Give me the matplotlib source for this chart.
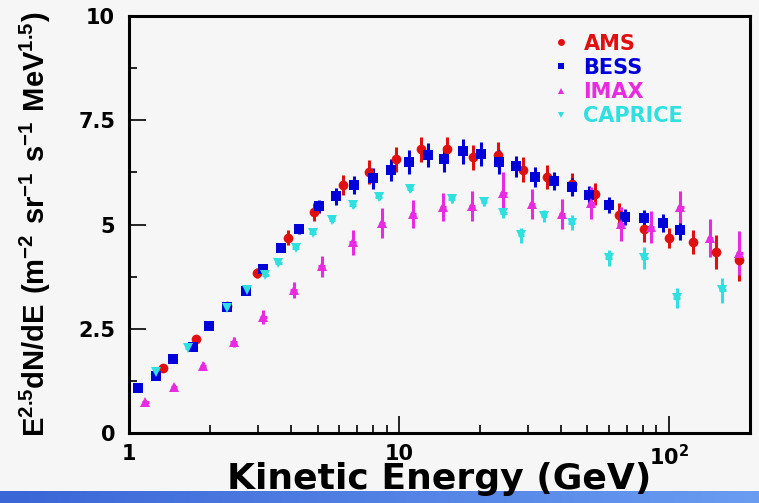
import numpy as np
import matplotlib
matplotlib.use('Agg')
from matplotlib import pyplot as plt
from matplotlib.lines import Line2D
from matplotlib.colors import LinearSegmentedColormap

plt.rcParams['font.family'] = ['DejaVu Sans']
plt.rcParams['font.weight'] = 'bold'
plt.rcParams['mathtext.fontset'] = 'custom'
plt.rcParams['mathtext.rm'] = 'Liberation Sans:bold'
plt.rcParams['mathtext.bf'] = 'Liberation Sans:bold'
plt.rcParams['mathtext.default'] = 'bf'

# AMS
ams_e = [1.34, 1.77, 2.31, 2.99, 3.87, 4.83, 6.19, 7.74, 9.74, 12.1, 15.1, 18.9,
         23.4, 28.9, 35.5, 43.7, 53.5, 65.7, 81.2, 100, 123, 150, 183]
ams_v = [1.56, 2.25, 3.05, 3.85, 4.68, 5.3, 5.95, 6.26, 6.57, 6.81, 6.81, 6.62,
         6.67, 6.31, 6.14, 5.97, 5.73, 5.23, 4.89, 4.68, 4.58, 4.34, 4.15]
ams_err = [0.05, 0.06, 0.08, 0.12, 0.18, 0.22, 0.25, 0.28, 0.3, 0.3, 0.3, 0.3,
           0.3, 0.3, 0.28, 0.26, 0.26, 0.28, 0.3, 0.24, 0.28, 0.4, 0.5]

# BESS
bess_e = [1.08, 1.26, 1.46, 1.72, 1.98, 2.31, 2.72, 3.15, 3.67, 4.28, 5.04, 5.83,
          6.81, 8.0, 9.33, 10.9, 12.8, 14.7, 17.3, 20.2, 23.5, 27.2, 32.0, 37.7,
          43.7, 50.8, 59.9, 69.1, 81.2, 95, 110]
bess_v = [1.08, 1.37, 1.77, 2.06, 2.57, 3.02, 3.41, 3.93, 4.44, 4.89, 5.44, 5.68,
          5.95, 6.11, 6.31, 6.5, 6.67, 6.57, 6.76, 6.69, 6.5, 6.4, 6.14, 6.04,
          5.9, 5.71, 5.47, 5.18, 5.16, 5.04, 4.87]
bess_err = [0.03, 0.03, 0.04, 0.05, 0.05, 0.06, 0.06, 0.08, 0.1, 0.12, 0.16, 0.2,
            0.22, 0.25, 0.26, 0.28, 0.28, 0.3, 0.3, 0.28, 0.28, 0.25, 0.25, 0.22,
            0.22, 0.22, 0.2, 0.2, 0.2, 0.22, 0.25]

# IMAX
imax_e = [1.15, 1.47, 1.88, 2.44, 3.15, 4.07, 5.17, 6.74, 8.65, 11.3, 14.6, 18.7,
          24.4, 31.2, 40.3, 51.7, 66.4, 85.7, 110.5, 142, 183]
imax_v = [0.74, 1.1, 1.61, 2.18, 2.78, 3.43, 4.0, 4.58, 5.04, 5.25, 5.42, 5.44,
          5.76, 5.49, 5.25, 5.52, 5.01, 4.94, 5.42, 4.68, 4.32]
imax_err = [0.06, 0.08, 0.1, 0.12, 0.16, 0.2, 0.25, 0.3, 0.36, 0.34, 0.34, 0.36,
            0.5, 0.36, 0.36, 0.38, 0.4, 0.38, 0.38, 0.46, 0.52]

# CAPRICE
cap_e = [1.26, 1.66, 2.31, 2.74, 3.2, 3.58, 4.14, 4.79, 5.64, 6.74, 8.42, 11.0,
         15.7, 20.7, 24.4, 28.4, 34.5, 43.7, 59.9, 81.2, 107, 158]
cap_v = [1.46, 2.03, 3.0, 3.43, 3.8, 4.08, 4.44, 4.8, 5.11, 5.47, 5.66, 5.85,
         5.61, 5.54, 5.28, 4.75, 5.2, 5.04, 4.2, 4.2, 3.24, 3.43]
cap_err = [0.02, 0.03, 0.04, 0.04, 0.05, 0.05, 0.06, 0.06, 0.07, 0.07, 0.08, 0.08,
           0.1, 0.1, 0.12, 0.18, 0.14, 0.18, 0.2, 0.27, 0.24, 0.3]

series = [
    ('AMS', ams_e, ams_v, ams_err, '#e01010', 'o', 7, 0.0),
    ('BESS', bess_e, bess_v, bess_err, '#0000d8', 's', 7, 0.0),
    ('IMAX', imax_e, imax_v, imax_err, '#e82ae0', '^', 6.5, 0.012),
    ('CAPRICE', cap_e, cap_v, cap_err, '#30e0e0', 'v', 6.5, 0.012),
]

bg = '#f6f6f6'
fig = plt.figure(figsize=(7.59, 5.03), dpi=100, facecolor=bg)
ax = fig.add_axes([0.170, 0.139, 0.818, 0.829], facecolor=bg)

handles = []
for name, e, v, err, col, mk, ms, dx in series:
    e = np.array(e)
    f = 10 ** dx
    xerr = [e - e / f, e * f - e] if dx > 0 else None
    ax.errorbar(e, v, yerr=err, xerr=xerr, fmt=mk, color=col, ms=ms,
                elinewidth=2.2, capsize=0, mew=0)
    handles.append(Line2D([], [], ls='none', marker=mk, color=col, ms=5, mew=0, label=name))

ax.set_xscale('log')
ax.set_xlim(1, 200)
ax.set_ylim(0, 10)
ax.set_xticks([1, 10, 100])
ax.set_xticklabels(['1', '10', r'$\mathsf{10^{2}}$'])
ax.set_yticks([0, 2.5, 5, 7.5, 10])
ax.set_yticklabels(['0', '2.5', '5', '7.5', '10'])
ax.set_yticks(np.arange(0, 10.01, 1.25), minor=True)
ax.tick_params(which='both', direction='in', top=False, right=False, labelsize=15, width=1.2)
ax.tick_params(which='major', length=12)
ax.tick_params(which='minor', length=6)
ax.tick_params(axis='x', pad=8)
ax.tick_params(axis='y', pad=10)
for s in ax.spines.values():
    s.set_linewidth(2.2)

ax.set_xlabel('Kinetic Energy (GeV)', fontsize=26, fontweight='bold')
ax.xaxis.label.set_va('baseline')
ax.xaxis.set_label_coords(0.5, -0.133)
ax.set_ylabel(r'$E^{2.5}dN/dE\ (m^{-2}\ sr^{-1}\ s^{-1}\ MeV^{1.5})$', fontsize=21)
ax.yaxis.set_label_coords(-0.122, 0.5)

leg = ax.legend(handles=handles, loc='upper left', bbox_to_anchor=(0.648, 1.003),
                frameon=False, fontsize=15, labelcolor='linecolor',
                handlelength=1.0, handletextpad=0.6, labelspacing=0.2)
for t in leg.get_texts():
    t.set_fontweight('bold')

# blue bar at the bottom
bar = fig.add_axes([0, 0, 1, 0.024])
bar.set_zorder(-1)
grad = np.linspace(0, 1, 256).reshape(1, -1)
cm = LinearSegmentedColormap.from_list('b', ['#3a66d6', '#6a9cf2'])
bar.imshow(grad, aspect='auto', cmap=cm)
bar.set_axis_off()

fig.savefig('out.png', dpi=100, facecolor=bg)
